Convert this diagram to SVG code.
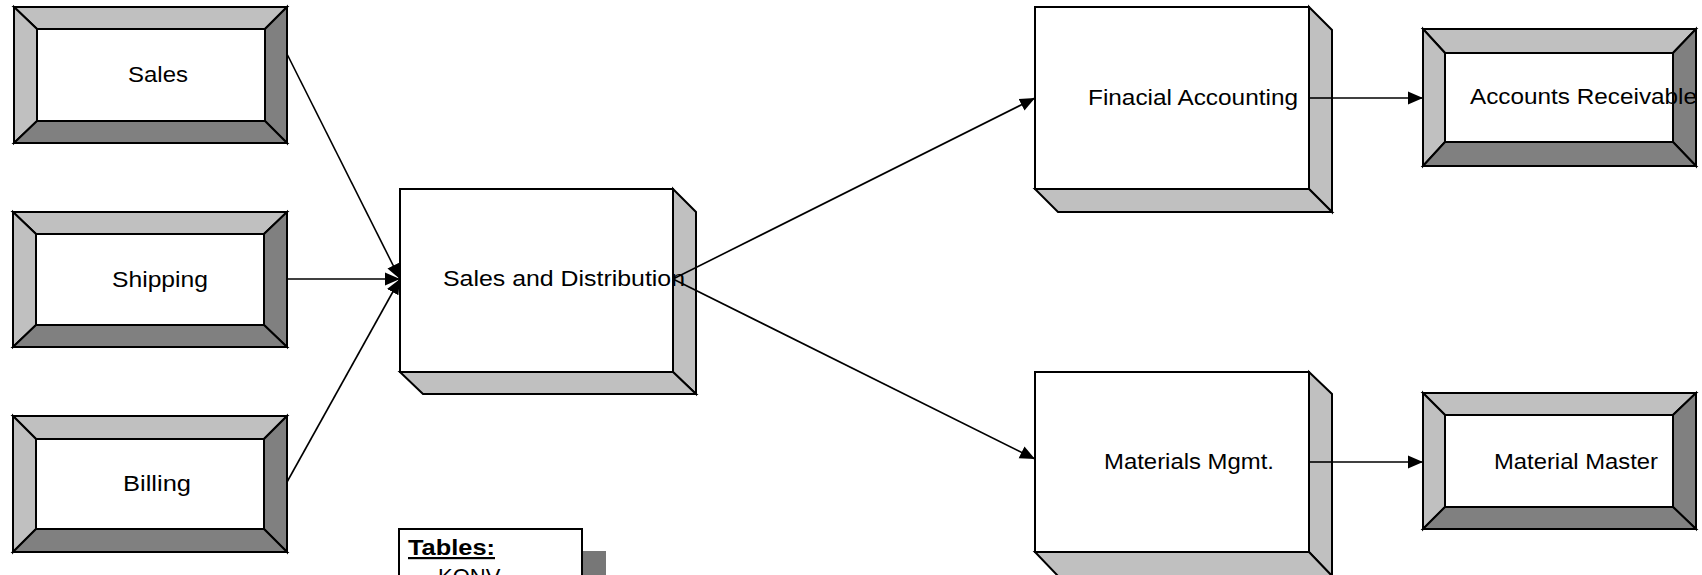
<svg xmlns="http://www.w3.org/2000/svg" width="1702" height="575" viewBox="0 0 1702 575">
<style>
.o{stroke:#000;stroke-width:2;stroke-linejoin:miter}
.lt{fill:#C0C0C0}
.dk{fill:#808080}
.w{fill:#fff}
.t{font-family:"Liberation Sans",Arial,sans-serif;font-size:22px;fill:#000}
.c{stroke:#000;stroke-width:1.6;fill:none}
</style>
<defs>
<marker id="ah" markerUnits="userSpaceOnUse" markerWidth="18" markerHeight="14" refX="15" refY="7" orient="auto">
<path d="M0,0.5 L15,7 L0,13.5 Z" fill="#000"/>
</marker>
</defs>
<rect width="1702" height="575" fill="#fff"/>

<g id="connectors">
<line class="c" x1="287" y1="54" x2="400" y2="279" marker-end="url(#ah)"/>
<line class="c" x1="287" y1="279" x2="400" y2="279" marker-end="url(#ah)"/>
<line class="c" x1="287" y1="482" x2="400" y2="279" marker-end="url(#ah)"/>
</g>

<g id="sales">
<polygon class="o lt" points="14,7 287,7 265,29 37,29"/>
<polygon class="o lt" points="14,7 37,29 37,121 14,143"/>
<polygon class="o dk" points="287,7 287,143 265,121 265,29"/>
<polygon class="o dk" points="14,143 37,121 265,121 287,143"/>
<rect class="o w" x="37" y="29" width="228" height="92"/>
<text class="t" x="128" y="82" textLength="60" lengthAdjust="spacingAndGlyphs">Sales</text>
</g>

<g id="shipping">
<polygon class="o lt" points="13,212 287,212 264,234 36,234"/>
<polygon class="o lt" points="13,212 36,234 36,325 13,347"/>
<polygon class="o dk" points="287,212 287,347 264,325 264,234"/>
<polygon class="o dk" points="13,347 36,325 264,325 287,347"/>
<rect class="o w" x="36" y="234" width="228" height="91"/>
<text class="t" x="112" y="287" textLength="96" lengthAdjust="spacingAndGlyphs">Shipping</text>
</g>

<g id="billing">
<polygon class="o lt" points="13,416 287,416 264,439 36,439"/>
<polygon class="o lt" points="13,416 36,439 36,529 13,552"/>
<polygon class="o dk" points="287,416 287,552 264,529 264,439"/>
<polygon class="o dk" points="13,552 36,529 264,529 287,552"/>
<rect class="o w" x="36" y="439" width="228" height="90"/>
<text class="t" x="123" y="491" textLength="68" lengthAdjust="spacingAndGlyphs">Billing</text>
</g>

<g id="sales-distribution">
<polygon class="o lt" points="673,189 696,212 696,394 673,372"/>
<polygon class="o lt" points="400,372 673,372 696,394 423,394"/>
<rect class="o w" x="400" y="189" width="273" height="183"/>
</g>

<g id="connectors-right">
<line class="c" x1="673" y1="279" x2="1035" y2="98" marker-end="url(#ah)"/>
<line class="c" x1="673" y1="279" x2="1035" y2="459" marker-end="url(#ah)"/>
<line class="c" x1="1309" y1="98" x2="1423" y2="98" marker-end="url(#ah)"/>
<line class="c" x1="1309" y1="462" x2="1423" y2="462" marker-end="url(#ah)"/>
</g>
<text class="t" x="443" y="286" textLength="242" lengthAdjust="spacingAndGlyphs">Sales and Distribution</text>

<g id="financial-accounting">
<polygon class="o lt" points="1309,7 1332,30 1332,212 1309,189"/>
<polygon class="o lt" points="1035,189 1309,189 1332,212 1058,212"/>
<rect class="o w" x="1035" y="7" width="274" height="182"/>
<line class="c" x1="1309" y1="98" x2="1332" y2="98"/>
<text class="t" x="1088" y="105" textLength="210" lengthAdjust="spacingAndGlyphs">Finacial Accounting</text>
</g>

<g id="materials-mgmt">
<polygon class="o lt" points="1309,372 1332,394 1332,576 1309,552"/>
<polygon class="o lt" points="1035,552 1309,552 1332,576 1058,576"/>
<rect class="o w" x="1035" y="372" width="274" height="180"/>
<line class="c" x1="1309" y1="462" x2="1332" y2="462"/>
<text class="t" x="1104" y="469" textLength="170" lengthAdjust="spacingAndGlyphs">Materials Mgmt.</text>
</g>

<g id="accounts-receivable">
<polygon class="o lt" points="1423,29 1696,29 1673,53 1445,53"/>
<polygon class="o lt" points="1423,29 1445,53 1445,142 1423,166"/>
<polygon class="o dk" points="1696,29 1696,166 1673,142 1673,53"/>
<polygon class="o dk" points="1423,166 1445,142 1673,142 1696,166"/>
<rect class="o w" x="1445" y="53" width="228" height="89"/>
<text class="t" x="1470" y="104" textLength="227" lengthAdjust="spacingAndGlyphs">Accounts Receivable</text>
</g>

<g id="material-master">
<polygon class="o lt" points="1423,393 1696,393 1673,415 1445,415"/>
<polygon class="o lt" points="1423,393 1445,415 1445,507 1423,529"/>
<polygon class="o dk" points="1696,393 1696,529 1673,507 1673,415"/>
<polygon class="o dk" points="1423,529 1445,507 1673,507 1696,529"/>
<rect class="o w" x="1445" y="415" width="228" height="92"/>
<text class="t" x="1494" y="469" textLength="164" lengthAdjust="spacingAndGlyphs">Material Master</text>
</g>

<g id="tables">
<rect x="583" y="551" width="23" height="30" fill="#777"/>
<rect class="o w" x="399" y="529" width="183" height="60"/>
<text class="t" x="408" y="555" font-weight="bold" text-decoration="underline" textLength="87" lengthAdjust="spacingAndGlyphs">Tables:</text>
<text class="t" x="438" y="584">KONV</text>
</g>
</svg>
